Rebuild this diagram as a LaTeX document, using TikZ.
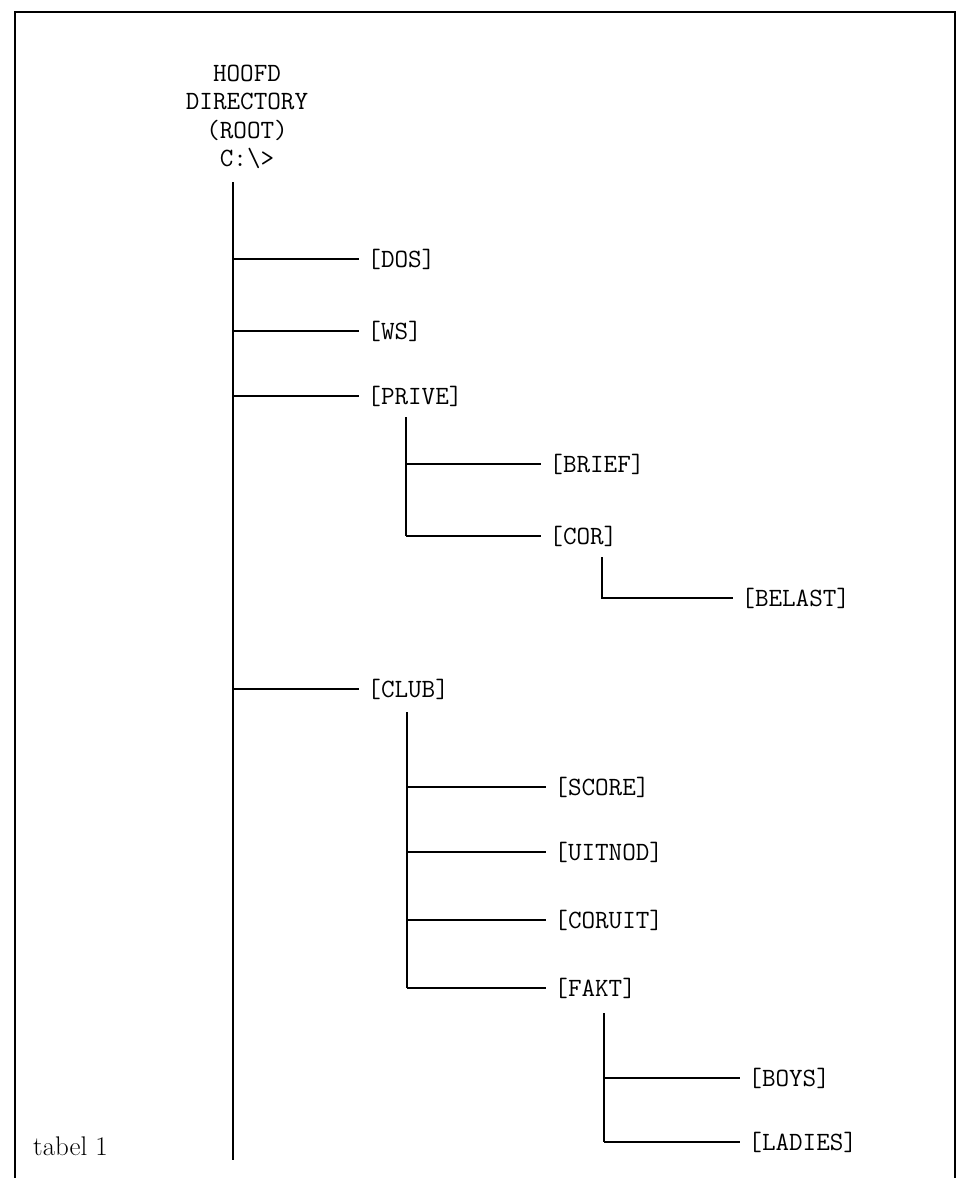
\documentclass[tikz,border=0pt]{standalone}
\usepackage{fontspec}
\usetikzlibrary{positioning}
\tikzset{
  dir/.style={anchor=west, inner xsep=7pt, inner ysep=0pt, font=\ttfamily\fontsize{22.5}{24}\selectfont},
  tak/.style={line width=1.9pt}
}
\begin{document}
\begin{tikzpicture}[x=0.03cm, y=-0.03cm]
  \useasboundingbox (0,0) rectangle (961,1178);
  \draw[line width=2.2pt] (15,1178) -- (15,12) -- (955,12) -- (955,1178);
  \node[align=center, inner sep=0pt, font=\ttfamily\fontsize{22.5}{24.2}\selectfont] (root) at (247,117) {HOOFD\\DIRECTORY\\(ROOT)\\C:\textbackslash>};
  \coordinate (top) at (233,182);
  \coordinate (bot) at (233,1160);
  \draw[tak] (top) -- (bot);
  \foreach \name/\txt/\y in {dos/DOS/259, ws/WS/331, prive/PRIVE/396, club/CLUB/689} {
    \node[dir] (\name) at (359,\y) {[\txt]};
    \draw[tak] (\name.west -| top) -- (\name.west);
  }
  % PRIVE
  \coordinate (prive-t) at (406,417);
  \foreach \name/\txt/\y in {brief/BRIEF/464, cor/COR/536} {
    \node[dir] (\name) at (541,\y) {[\txt]};
    \draw[tak] (\name.west -| prive-t) -- (\name.west);
  }
  \draw[tak] (prive-t) -- (cor.west -| prive-t);
  % COR
  \coordinate (cor-t) at (602,557);
  \node[dir] (belast) at (733,598) {[BELAST]};
  \draw[tak] (cor-t) |- (belast.west);
  % CLUB
  \coordinate (club-t) at (407,712);
  \foreach \name/\txt/\y in {score/SCORE/787, uitnod/UITNOD/852, coruit/CORUIT/920, fakt/FAKT/988} {
    \node[dir] (\name) at (546,\y) {[\txt]};
    \draw[tak] (\name.west -| club-t) -- (\name.west);
  }
  \draw[tak] (club-t) -- (fakt.west -| club-t);
  % FAKT
  \coordinate (fakt-t) at (604,1013);
  \foreach \name/\txt/\y in {boys/BOYS/1078, ladies/LADIES/1142} {
    \node[dir] (\name) at (740,\y) {[\txt]};
    \draw[tak] (\name.west -| fakt-t) -- (\name.west);
  }
  \draw[tak] (fakt-t) -- (ladies.west -| fakt-t);
  \node[anchor=base west, inner sep=0pt, font=\fontsize{23}{25}\selectfont] (tabel) at (33,1155) {tabel 1};
\end{tikzpicture}
\end{document}
